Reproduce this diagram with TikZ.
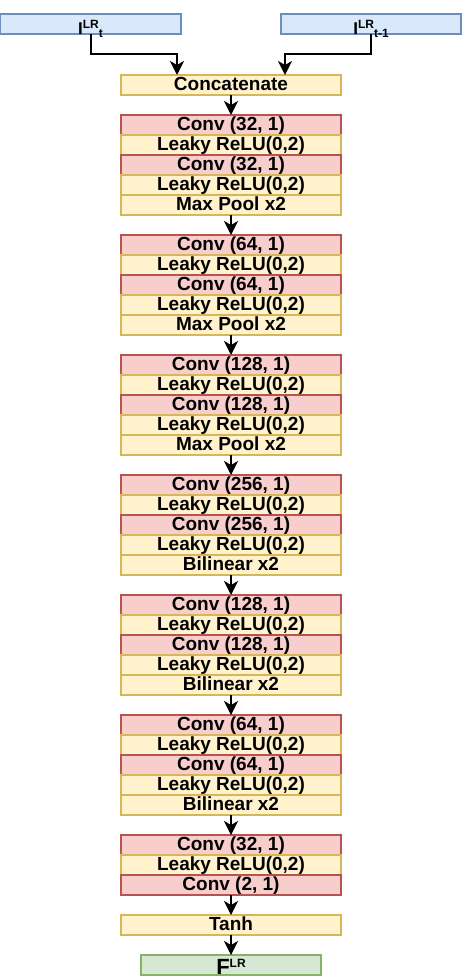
\documentclass[tikz,border=0pt]{standalone}
\usepackage{fontspec}
\setmainfont{Liberation Sans}
\usetikzlibrary{positioning,arrows.meta}

\definecolor{convfill}{HTML}{F8CECC}
\definecolor{convline}{HTML}{B85450}
\definecolor{actfill}{HTML}{FFF2CC}
\definecolor{actline}{HTML}{D6B656}
\definecolor{infill}{HTML}{DAE8FC}
\definecolor{inline}{HTML}{6C8EBF}
\definecolor{outfill}{HTML}{D5E8D4}
\definecolor{outline}{HTML}{82B366}

\tikzset{
    layer/.style={draw, line width=1.4pt, minimum width=220pt, minimum height=20pt,
        inner sep=0pt, outer sep=0pt, font=\fontsize{19}{19}\selectfont\bfseries,
        text height=14pt, text depth=4pt},
    conv/.style={layer, draw=convline, fill=convfill},
    act/.style={layer, draw=actline, fill=actfill},
    inbox/.style={layer, draw=inline, fill=infill, text height=20pt, text depth=0pt},
    outbox/.style={layer, draw=outline, fill=outfill, minimum width=180pt,
        text height=19pt, text depth=1pt},
    arr/.style={draw, line width=2pt, -{Stealth[length=14pt, width=14pt, inset=4pt]}}
}

\begin{document}
\begin{tikzpicture}
    \useasboundingbox (0,0) rectangle (462pt,-980pt);

    % inputs
    \node[inbox, minimum width=181pt] (inA) at (90.5pt,-24pt)
        {{\fontsize{17}{17}\selectfont I}\raisebox{5.5pt}{\fontsize{12}{12}\selectfont LR}\raisebox{-3pt}[0pt][0pt]{\fontsize{12}{12}\selectfont t}};
    \node[inbox, minimum width=180pt] (inB) at (371pt,-24pt)
        {{\fontsize{17}{17}\selectfont I}\raisebox{5.5pt}{\fontsize{12}{12}\selectfont LR}\raisebox{-3pt}[0pt][0pt]{\fontsize{12}{12}\selectfont t-1}};
    \node[act] (cat) at (231pt,-85pt) {Concatenate};

    \draw[arr] (inA.south) -- ++(0,-20pt) -| ([xshift=-54pt]cat.north);
    \draw[arr] (inB.south) -- ++(0,-20pt) -| ([xshift=54pt]cat.north);

    % encoder / decoder blocks
    \coordinate (top) at (cat.south);
    \foreach \ch/\op [count=\i] in {32/Max Pool x2, 64/Max Pool x2, 128/Max Pool x2,
            256/Bilinear x2, 128/Bilinear x2, 64/Bilinear x2} {
        \node[conv, below=20pt of top] (b\i-1) {Conv (\ch, 1)};
        \node[act, below=0pt of b\i-1] (b\i-2) {Leaky ReLU(0,2)};
        \node[conv, below=0pt of b\i-2] (b\i-3) {Conv (\ch, 1)};
        \node[act, below=0pt of b\i-3] (b\i-4) {Leaky ReLU(0,2)};
        \node[act, below=0pt of b\i-4] (b\i-5) {\op};
        \coordinate (top) at (b\i-5.south);
    }

    % last block
    \node[conv, below=20pt of top] (b7-1) {Conv (32, 1)};
    \node[act, below=0pt of b7-1] (b7-2) {Leaky ReLU(0,2)};
    \node[conv, below=0pt of b7-2] (b7-3) {Conv (2, 1)};
    \node[act, below=20pt of b7-3] (tanh) {Tanh};
    \node[outbox, below=20pt of tanh] (flow)
        {{\fontsize{22}{22}\selectfont F}\raisebox{7pt}{\fontsize{12}{12}\selectfont LR}};

    \draw[arr] (cat) -- (b1-1);
    \foreach \i [evaluate=\i as \j using int(\i+1)] in {1,...,6}
        \draw[arr] (b\i-5) -- (b\j-1);
    \draw[arr] (b7-3) -- (tanh);
    \draw[arr] (tanh) -- (flow);
\end{tikzpicture}
\end{document}
